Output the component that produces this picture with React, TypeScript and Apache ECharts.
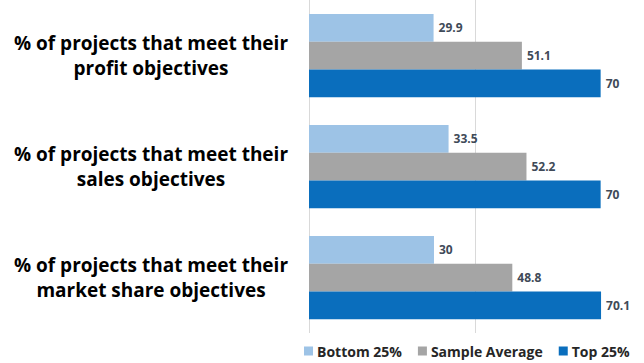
import React, { useEffect, useRef } from "react";
import * as echarts from "echarts";

const categories = [
  "% of projects that meet their\nprofit objectives",
  "% of projects that meet their\nsales objectives",
  "% of projects that meet their\nmarket share objectives",
];
const seriesNames = ["Bottom 25%", "Sample Average", "Top 25%"];
const bottom25 = [29.9, 33.5, 30];
const sampleAverage = [51.1, 52.2, 48.8];
const top25 = [70, 70, 70.1];
const colors = ["#9DC3E6", "#A5A5A5", "#0A6EBD"];

export default function App() {
  const ref = useRef<HTMLDivElement>(null);
  useEffect(() => {
    if (!ref.current) return;
    const chart = echarts.init(ref.current, null, { renderer: "svg" });
    const values = [bottom25, sampleAverage, top25];
    chart.setOption({
      animation: false,
      backgroundColor: "#ffffff",
      grid: { left: 309, width: 333.3, top: -2, bottom: 30, containLabel: false },
      legend: {
        left: 304,
        top: 344,
        padding: 0,
        itemWidth: 9,
        itemHeight: 9,
        itemGap: 16,
        icon: "rect",
        textStyle: {
          fontFamily: "Open Sans",
          fontWeight: "bold",
          fontSize: 14,
          color: "#262626",
          padding: [0, 0, 0, -1],
        },
        data: seriesNames,
      },
      xAxis: {
        type: "value",
        min: 0,
        max: 80,
        interval: 40,
        axisLabel: { show: false },
        axisLine: { show: false },
        axisTick: { show: false },
        splitLine: { show: true, showMaxLine: false, lineStyle: { color: "#D9D9D9", width: 1 } },
      },
      yAxis: {
        type: "category",
        inverse: true,
        data: categories,
        axisLine: { show: false },
        axisTick: { show: false },
        axisLabel: {
          align: "center",
          margin: 158,
          fontFamily: "Open Sans",
          fontWeight: "bold",
          fontSize: 19,
          lineHeight: 25,
          color: "#000000",
        },
      },
      series: seriesNames.map((name, i) => ({
        name,
        type: "bar",
        data: values[i],
        barGap: "0%",
        barCategoryGap: "25%",
        itemStyle: { color: colors[i] },
        label: {
          show: true,
          position: "right",
          distance: 5,
          fontFamily: "Open Sans",
          fontWeight: "bold",
          fontSize: 12,
          color: "#404A58",
        },
      })),
    });
    return () => chart.dispose();
  }, []);
  return <div ref={ref} style={{ width: 644, height: 363, position: "absolute", left: 0, top: 0 }} />;
}
